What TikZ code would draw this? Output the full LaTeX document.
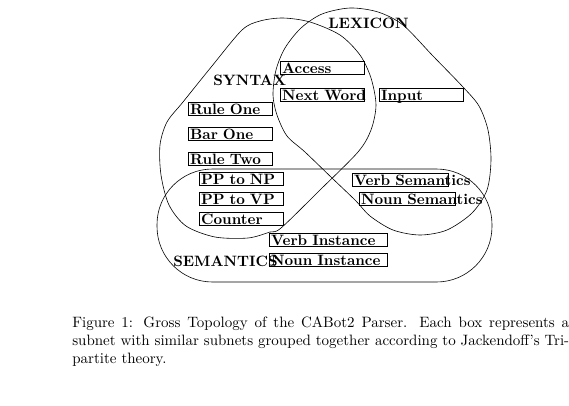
\documentclass[tikz,border=0pt]{standalone}
\usepackage{tikz}

\begin{document}
\begin{tikzpicture}[x=0.6667pt,y=-0.6667pt,
  region/.style={line width=0.4pt},
  subnet/.style={draw,line width=0.8pt,anchor=north west,inner xsep=1pt,inner ysep=0pt,text width=#1,align=left,text height=7.9pt,text depth=0.8pt,font=\bfseries},
  subnet/.default=54pt,
  area/.style={anchor=base west,inner sep=0pt,font=\bfseries}]
\useasboundingbox (0,0) rectangle (569,405);
% syntax
\draw[region] plot[smooth cycle,tension=0.5] coordinates {(281,228) (320,190) (358,152) (371,130) (376,105) (371,78) (360,55) (340,35) (310,22) (283,18) (260,21) (242,30) (212,66) (183,102) (167,122) (160,145) (161,175) (169,205) (186,226) (215,237) (248,238) (270,232)};
% lexicon
\draw[region] plot[smooth cycle,tension=0.5] coordinates {(403,25) (433,56) (463,87) (479,106) (488,130) (491,160) (487,190) (472,213) (447,230) (420,235) (393,230) (370,216) (356,201) (332,178) (305,152) (287,136) (277,115) (273,95) (276,70) (285,48) (301,28) (322,14) (350,8) (378,12)};
% semantics
\draw[region,rounded corners=37pt] (157,169) rectangle (492,282);
\node[area] (syntax) at (213,85) {SYNTAX};
\node[area] (lexicon) at (328,28) {LEXICON};
\node[area] (semantics) at (173,266.5) {SEMANTICS};
\node[subnet] (access) at (280,61) {Access};
\node[subnet] (next) at (280,88) {\mbox{Next Word}};
\node[subnet] (input) at (379,88) {Input};
\node[subnet] (ruleone) at (188,102) {Rule One};
\node[subnet] (barone) at (188,127) {Bar One};
\node[subnet] (ruletwo) at (188,152) {Rule Two};
\node[subnet] (ppnp) at (199,172) {PP to NP};
\node[subnet] (ppvp) at (199,192) {PP to VP};
\node[subnet] (counter) at (199,212) {Counter};
\node[subnet=62pt] (verbsem) at (352,173) {\mbox{Verb Semantics}};
\node[subnet=62pt] (nounsem) at (359,192) {\mbox{Noun Semantics}};
\node[subnet=76.7pt] (verbinst) at (269,233) {Verb Instance};
\node[subnet=76.7pt] (nouninst) at (269,253) {Noun Instance};
\node[anchor=north west,inner sep=0pt,text width=331.3pt,align=justify] (caption) at (72,316.5) {Figure 1: Gross Topology of the CABot2 Parser. Each box represents a\linebreak subnet with similar subnets grouped together according to Jackendoff's Tri-\linebreak partite theory.};
\end{tikzpicture}
\end{document}
